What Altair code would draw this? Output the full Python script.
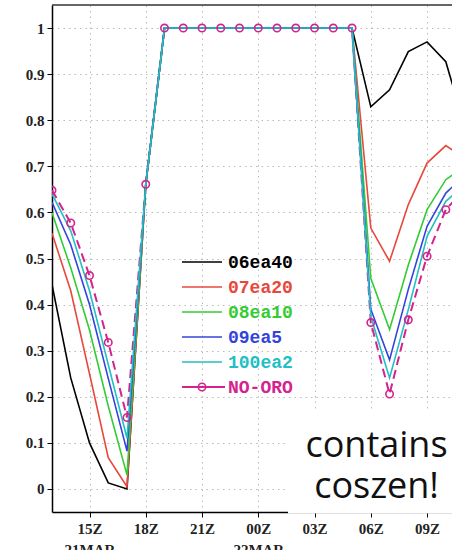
import altair as alt
import pandas as pd

# ---------------- data ----------------
hours = [13, 14, 15, 16, 17, 18, 19, 20, 21, 22, 23, 24, 25, 26, 27, 28, 29, 30, 31, 32, 33, 34, 35]

series_names = ["06ea40", "07ea20", "08ea10", "09ea5", "100ea2", "NO-ORO"]
series_colors = ["#000000", "#e8483c", "#33cc33", "#3344dd", "#22bfc4", "#d4228e"]

v_06ea40 = [0.443, 0.241, 0.100, 0.013, 0.000, 0.661, 1.0, 1.0, 1.0, 1.0, 1.0, 1.0, 1.0, 1.0, 1.0, 1.0, 1.0,
            0.829, 0.866, 0.949, 0.970, 0.927, 0.787]
v_07ea20 = [0.555, 0.430, 0.250, 0.068, 0.005, 0.661, 1.0, 1.0, 1.0, 1.0, 1.0, 1.0, 1.0, 1.0, 1.0, 1.0, 1.0,
            0.566, 0.494, 0.617, 0.707, 0.745, 0.718]
v_08ea10 = [0.599, 0.480, 0.345, 0.180, 0.030, 0.661, 1.0, 1.0, 1.0, 1.0, 1.0, 1.0, 1.0, 1.0, 1.0, 1.0, 1.0,
            0.457, 0.346, 0.486, 0.606, 0.671, 0.700]
v_09ea5 = [0.622, 0.530, 0.400, 0.240, 0.082, 0.661, 1.0, 1.0, 1.0, 1.0, 1.0, 1.0, 1.0, 1.0, 1.0, 1.0, 1.0,
           0.390, 0.280, 0.433, 0.570, 0.642, 0.680]
v_100ea2 = [0.640, 0.560, 0.430, 0.270, 0.110, 0.661, 1.0, 1.0, 1.0, 1.0, 1.0, 1.0, 1.0, 1.0, 1.0, 1.0, 1.0,
            0.374, 0.241, 0.389, 0.548, 0.624, 0.660]
v_no_oro = [0.648, 0.577, 0.463, 0.318, 0.155, 0.661, 1.0, 1.0, 1.0, 1.0, 1.0, 1.0, 1.0, 1.0, 1.0, 1.0, 1.0,
            0.361, 0.206, 0.367, 0.505, 0.606, 0.650]

x_tick_values = [15, 18, 21, 24, 27, 30, 33]
x_tick_labels = ["15Z", "18Z", "21Z", "00Z", "03Z", "06Z", "09Z"]
x_date_labels = ["21MAR", "", "", "22MAR", "", "", ""]
y_tick_values = [0, 0.1, 0.2, 0.3, 0.4, 0.5, 0.6, 0.7, 0.8, 0.9, 1.0]

note_lines = ["contains", "coszen!"]

# ---------------- build tables ----------------
all_values = [v_06ea40, v_07ea20, v_08ea10, v_09ea5, v_100ea2, v_no_oro]
rows = []
for name, vals in zip(series_names, all_values):
    for h, v in zip(hours, vals):
        rows.append({"hour": h, "value": v, "series": name})
df = pd.DataFrame(rows)

# label expression from the tick label lists
expr = "''"
for tv, tl, dl in reversed(list(zip(x_tick_values, x_tick_labels, x_date_labels))):
    lab = f"['{tl}','{dl}']" if dl else f"'{tl}'"
    expr = f"datum.value == {tv} ? {lab} : ({expr})"

W, H = 400, 507

xscale = alt.Scale(domain=[13, 34.33], nice=False, zero=False)
yscale = alt.Scale(domain=[-0.05, 1.05], nice=False, zero=False)
cscale = alt.Scale(domain=series_names, range=series_colors)

xax = alt.Axis(values=x_tick_values, labelExpr=expr, title=None, grid=True,
               labelLineHeight=21, labelPadding=4)
yax = alt.Axis(values=y_tick_values, format="~g", title=None, grid=True, labelPadding=3)

base = alt.Chart(df)

magenta_line = base.transform_filter(alt.datum.series == "NO-ORO").mark_line(
    clip=True, strokeWidth=2, strokeDash=[9, 5], color=series_colors[5]
).encode(
    x=alt.X("hour:Q", scale=xscale, axis=xax),
    y=alt.Y("value:Q", scale=yscale, axis=yax),
)

solid_lines = base.transform_filter(alt.datum.series != "NO-ORO").mark_line(
    clip=True, strokeWidth=1.6
).encode(
    x=alt.X("hour:Q", scale=xscale),
    y=alt.Y("value:Q", scale=yscale),
    color=alt.Color("series:N", scale=cscale, legend=None),
)

magenta_pts = base.transform_filter(alt.datum.series == "NO-ORO").mark_point(
    clip=True, shape="circle", filled=False, size=55, strokeWidth=1.6, color=series_colors[5], opacity=1
).encode(
    x=alt.X("hour:Q", scale=xscale),
    y=alt.Y("value:Q", scale=yscale),
)

one = pd.DataFrame({"k": [0]})

top_border = alt.Chart(one).mark_rule(color="#333333", strokeWidth=1.5).encode(
    x=alt.value(0), x2=alt.value(W), y=alt.value(0)
)

# manual legend
legend_layers = []
for i, (name, col) in enumerate(zip(series_names, series_colors)):
    yy = 257 + 25 * i
    ldf = pd.DataFrame({"name": [name]})
    if name == "NO-ORO":
        legend_layers.append(alt.Chart(ldf).mark_rule(color=col, strokeWidth=2).encode(
            x=alt.value(130), x2=alt.value(173), y=alt.value(yy)))
        legend_layers.append(alt.Chart(ldf).mark_point(shape="circle", filled=False, size=55,
                                                       strokeWidth=1.6, color=col, opacity=1).encode(
            x=alt.value(150), y=alt.value(yy)))
    else:
        legend_layers.append(alt.Chart(ldf).mark_rule(color=col, strokeWidth=1.6).encode(
            x=alt.value(130), x2=alt.value(170), y=alt.value(yy)))
    legend_layers.append(alt.Chart(ldf).mark_text(
        align="left", baseline="middle", font="Liberation Mono", fontSize=18, fontWeight="bold", color=col
    ).encode(x=alt.value(176), y=alt.value(yy + 1), text="name:N"))

# annotation box
box = alt.Chart(one).mark_rect(color="white").encode(
    x=alt.value(236), x2=alt.value(W), y=alt.value(405), y2=alt.value(508.5)
)
note_layers = []
for j, line in enumerate(note_lines):
    ndf = pd.DataFrame({"t": [line]})
    note_layers.append(alt.Chart(ndf).mark_text(
        align="center", baseline="alphabetic", font="Open Sans", fontSize=36, color="#111111"
    ).encode(x=alt.value(324.5), y=alt.value(452 + 41 * j), text="t:N"))

chart = alt.layer(
    magenta_line, solid_lines, magenta_pts, top_border, *legend_layers, box, *note_layers
).properties(
    width=W, height=H,
    padding={"left": 52, "top": 5, "right": 0, "bottom": 38},
    autosize=alt.AutoSizeParams(type="none"),
).configure_view(
    stroke=None
).configure_axis(
    domainColor="#000000", domainWidth=1.5,
    tickColor="#000000", tickWidth=1, tickSize=5,
    gridColor="#bbbbbb", gridDash=[1.5, 4], gridWidth=1,
    labelFont="Liberation Serif", labelFontWeight="bold", labelFontSize=15, labelColor="#222222",
)

chart.save("out.html", embed_options={"renderer": "svg", "actions": False})
